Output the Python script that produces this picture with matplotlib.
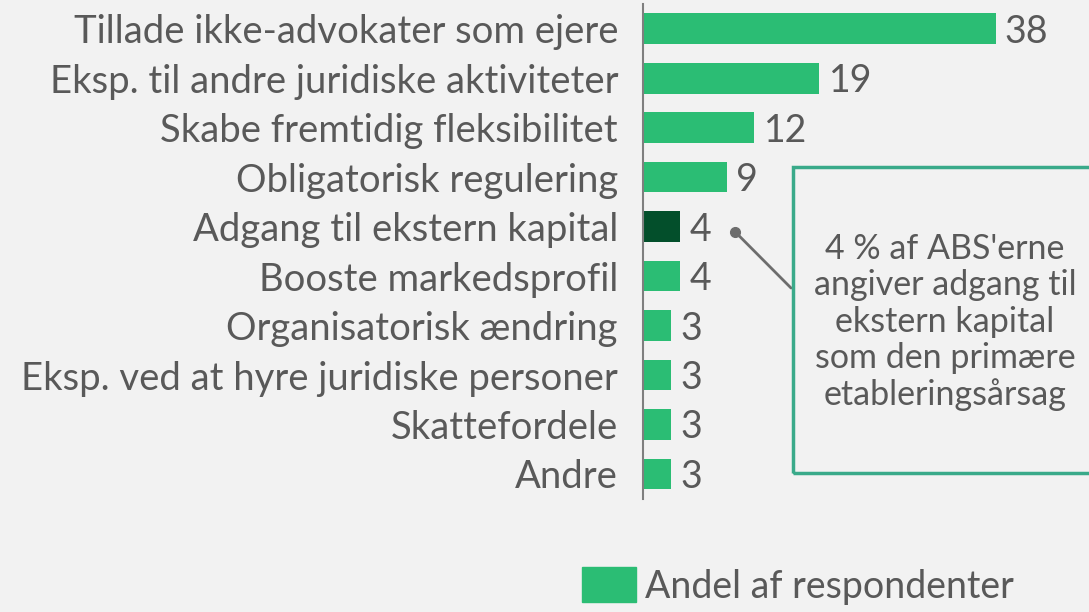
import matplotlib.pyplot as plt
from matplotlib.patches import Patch, Rectangle

# data
categories = [
    "Tillade ikke-advokater som ejere",
    "Eksp. til andre juridiske aktiviteter",
    "Skabe fremtidig fleksibilitet",
    "Obligatorisk regulering",
    "Adgang til ekstern kapital",
    "Booste markedsprofil",
    "Organisatorisk ændring",
    "Eksp. ved at hyre juridiske personer",
    "Skattefordele",
    "Andre",
]
values = [38, 19, 12, 9, 4, 4, 3, 3, 3, 3]
highlight = "Adgang til ekstern kapital"
legend_label = "Andel af respondenter"
note = "4 % af ABS'erne\nangiver adgang til\nekstern kapital\nsom den primære\netableringsårsag"

bg = "#f2f2f2"
green = "#2bbd74"
dark = "#034f2b"
txt = "#595959"

plt.rcParams["font.family"] = ["Lato", "DejaVu Sans"]

W, H = 1089, 612
fig = plt.figure(figsize=(W / 100, H / 100), dpi=100, facecolor=bg)
ax = fig.add_axes([643 / W, 1 - 498.7 / H, (W - 643) / W, 494.7 / H])
ax.set_facecolor(bg)

colors = [dark if c == highlight else green for c in categories]
ypos = range(len(categories))
ax.barh(ypos, values, height=0.62, color=colors)
ax.set_xlim(0, (W - 643) / 9.28)
ax.set_ylim(9.5, -0.5)

for y, v in zip(ypos, values):
    ax.text(v + 1.0, y + 0.06, str(v), va="center", ha="left", fontsize=27, color=txt)

ax.set_yticks(list(ypos))
ax.set_yticklabels(categories, fontsize=27.5, color=txt)
ax.tick_params(axis="y", length=0, pad=18)
ax.set_xticks([])
for s in ["top", "right", "bottom"]:
    ax.spines[s].set_visible(False)
ax.spines["left"].set_color("#7f7f7f")
ax.spines["left"].set_linewidth(1.5)

# note box
box = Rectangle((793 / W, 1 - 473 / H), 0.3, (473 - 167) / H, transform=fig.transFigure,
                fill=False, edgecolor="#3aaa8a", linewidth=2.5, clip_on=False)
fig.add_artist(box)
fig.text(945 / W, 1 - 322 / H, note, ha="center", va="center", fontsize=24.5,
         color=txt, linespacing=1.16)

# connector
ax.plot([9.9], [4.1], "o", color="#6d6d6d", markersize=7, clip_on=False)
ax.annotate("", xy=(9.9, 4.1), xytext=(793 / W, 1 - 290 / H), textcoords="figure fraction",
            arrowprops=dict(arrowstyle="-", color="#6d6d6d", lw=2))

fig.legend(handles=[Patch(color=green)], labels=[legend_label], loc="center left",
           bbox_to_anchor=(582 / W, 1 - 586 / H), frameon=False, fontsize=27,
           labelcolor=txt, handlelength=1.43, handleheight=1.05, handletextpad=0.25,
           borderpad=0, borderaxespad=0)

fig.savefig("out.png", dpi=100, facecolor=bg)
